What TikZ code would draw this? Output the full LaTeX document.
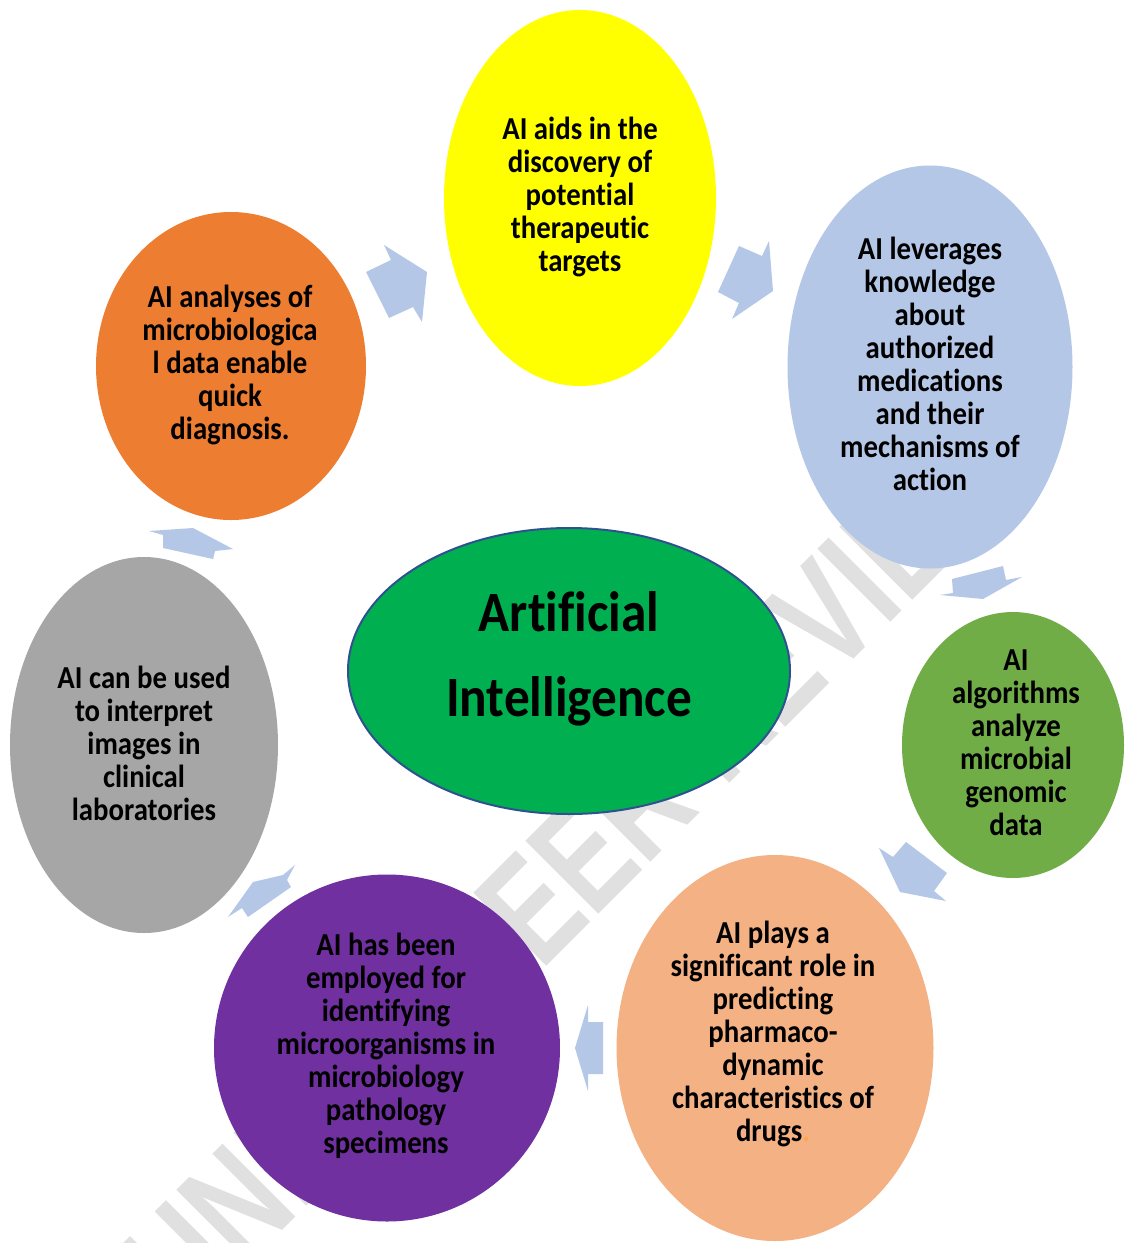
\documentclass[tikz,border=0pt]{standalone}
\usepackage{fontspec}
\newfontfamily\aifont{Carlito}[FakeStretch=0.9,Ligatures=NoCommon]
\newfontfamily\wmfont{Liberation Sans}[FakeStretch=0.74]
\usetikzlibrary{shapes.geometric}
\definecolor{cyellow}{HTML}{FFFF00}
\definecolor{cblue}{HTML}{B4C7E7}
\definecolor{cgreen}{HTML}{70AD47}
\definecolor{cpeach}{HTML}{F4B183}
\definecolor{cpurple}{HTML}{7030A0}
\definecolor{cgray}{HTML}{A6A6A6}
\definecolor{corange}{HTML}{ED7D31}
\definecolor{ccenter}{HTML}{00B050}
\definecolor{cborder}{HTML}{2F528F}
\definecolor{carrow}{HTML}{B4C7E7}
\begin{document}
\begin{tikzpicture}[x=1pt,y=-1pt,
  bub/.style={ellipse, inner sep=0pt, draw=none},
  txt/.style={align=center, inner sep=0pt, text=black,
    font=\aifont\bfseries\fontsize{32}{33}\selectfont},
  bigtxt/.style={align=center, inner sep=0pt, text=black,
    font=\aifont\bfseries\fontsize{57}{85}\selectfont},
  arr/.style={fill=carrow, draw=none},
  wm/.style={text=gray!24, inner sep=0pt, font=\wmfont\bfseries\fontsize{150}{150}\selectfont}]
\useasboundingbox (0,0) rectangle (1125,1243);
\fill[white] (0,0) rectangle (1125,1243);
% watermark
\node[wm, rotate=45] (wmark) at (575,866) {UNDER PEER REVIEW};
% bubbles
\node[bub, fill=cyellow, minimum width=272pt, minimum height=376pt] (yel) at (580,198) {};
\node[bub, fill=cblue, minimum width=285pt, minimum height=403pt] (blu) at (930,367) {};
\node[bub, fill=cgreen, minimum width=222pt, minimum height=266pt] (grn) at (1013,745) {};
\node[bub, fill=cpeach, minimum width=317pt, minimum height=386pt] (pch) at (775,1048) {};
\node[bub, fill=cpurple, minimum width=346pt, minimum height=347pt] (pur) at (387,1048) {};
\node[bub, fill=cgray, minimum width=268pt, minimum height=376pt] (gry) at (144,745) {};
\node[bub, fill=corange, minimum width=270pt, minimum height=308pt] (orn) at (231,366) {};
\node[bub, fill=ccenter, draw=cborder, line width=2pt, minimum width=442pt, minimum height=286pt] (ctr) at (569,671) {};
% arrows
\fill[arr] (366,272) -- (391,260) -- (384,245) -- (427,272) -- (422,322) -- (413,307) -- (389,318) -- cycle;
\fill[arr] (739,246) -- (762,256) -- (769,241) -- (773,291) -- (732,319) -- (739,303) -- (718,292) -- cycle;
\fill[arr] (952,579) -- (1003,566) -- (1006,580) -- (1022,577) -- (983,599) -- (940,595) -- (953,593) -- cycle;
\fill[arr] (879,848) -- (893,857) -- (906,842) -- (947,873) -- (934,891) -- (946,901) -- (900,892) -- cycle;
\fill[arr] (588,1005) -- (588,1022) -- (603,1022) -- (603,1074) -- (588,1074) -- (588,1091) -- (575,1048) -- cycle;
\fill[arr] (228,917) -- (253,882) -- (283,875) -- (295,865) -- (287,880) -- (291,887) -- (248,917) -- (242,908) -- cycle;
\fill[arr] (149,531) -- (193,528) -- (233,549) -- (215,551) -- (213,559) -- (163,548) -- (163,535) -- cycle;
% texts
\node[txt] (tyel) at (580,197) {AI aids in the\\discovery of\\potential\\therapeutic\\targets};
\node[txt] (tblu) at (930,364) {AI leverages\\knowledge\\about\\authorized\\medications\\and their\\mechanisms of\\action};
\node[txt] (tgrn) at (1016,743) {AI\\algorithms\\analyze\\microbial\\genomic\\data};
\node[txt] (tpch) at (773,1034) {AI plays a\\significant role in\\predicting\\pharmaco-\\dynamic\\characteristics of\\drugs\textcolor{orange!70}{.}};
\node[txt] (tpur) at (386,1046) {AI has been\\employed for\\identifying\\microorganisms in\\microbiology\\pathology\\specimens};
\node[txt] (tgry) at (144,743) {AI can be used\\to interpret\\images in\\clinical\\laboratories};
\node[txt] (torn) at (230,365) {AI analyses of\\microbiologica\\l data enable\\quick\\diagnosis.};
\node[bigtxt] (tctr) at (569,659) {Artificial\\Intelligence};
\end{tikzpicture}
\end{document}
